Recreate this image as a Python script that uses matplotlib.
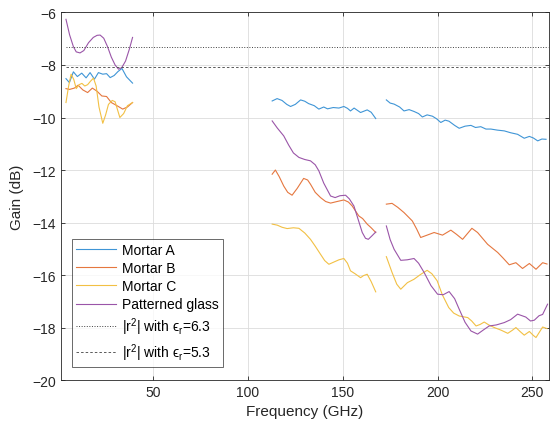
import numpy as np
import matplotlib.pyplot as plt

plt.rcParams["font.family"] = ["Liberation Sans", "DejaVu Sans"]
plt.rcParams["mathtext.fontset"] = "custom"
plt.rcParams["mathtext.rm"] = "Liberation Sans"
plt.rcParams["mathtext.it"] = "Liberation Sans:italic"

gap = np.nan

# Measured gain per material, three bands separated by NaN
mortar_a_f = [4.1, 5.9, 8.0, 10.1, 12.4, 14.7, 16.8, 19.1, 21.2, 23.5, 25.5, 27.4, 29.5, 31.5, 33.6, 36.0, 39.2, gap,
              112.8, 115.4, 118.0, 120.5, 122.5, 125.0, 127.8, 130.0, 132.0, 135.0, 137.4, 140.0, 142.0, 145.0, 148.0,
              150.6, 152.5, 154.1, 156.0, 159.4, 162.9, 165.0, 167.4, gap,
              173.0, 175.0, 177.1, 180.0, 182.3, 185.0, 187.6, 190.0, 192.0, 194.5, 197.3, 199.5, 201.7, 204.0, 206.0,
              209.0, 211.4, 214.5, 217.6, 220.0, 222.8, 225.5, 228.1, 231.5, 235.2, 238.5, 242.2, 245.7, 248.4, 250.5,
              252.8, 255.0, 257.2]
mortar_a_g = [-8.52, -8.67, -8.26, -8.44, -8.31, -8.49, -8.29, -8.54, -8.29, -8.35, -8.33, -8.48, -8.40, -8.25, -8.13,
              -8.45, -8.69, gap,
              -9.37, -9.28, -9.35, -9.50, -9.58, -9.50, -9.33, -9.38, -9.47, -9.55, -9.68, -9.60, -9.67, -9.62, -9.64,
              -9.58, -9.65, -9.75, -9.64, -9.81, -9.71, -9.80, -10.04, gap,
              -9.33, -9.45, -9.49, -9.60, -9.75, -9.70, -9.77, -9.85, -9.98, -9.90, -9.95, -10.05, -10.19, -10.10,
              -10.14, -10.30, -10.41, -10.33, -10.30, -10.38, -10.35, -10.44, -10.44, -10.48, -10.51, -10.58, -10.64,
              -10.79, -10.72, -10.78, -10.89, -10.82, -10.83]

mortar_b_f = [4.1, 6.0, 8.5, 10.5, 13.0, 15.5, 18.0, 20.5, 23.0, 25.5, 28.0, 31.0, 34.0, 36.5, 39.2, gap,
              112.8, 114.5, 116.5, 118.9, 121.0, 123.3, 126.0, 129.4, 131.5, 133.0, 135.5, 138.3, 141.0, 143.6, 147.0,
              150.6, 153.0, 155.0, 158.5, 160.5, 162.9, 165.0, 167.4, gap,
              173.0, 176.0, 179.0, 182.3, 186.7, 189.0, 191.1, 194.5, 198.2, 202.6, 207.0, 210.0, 213.2, 218.1, 221.1,
              226.4, 231.7, 234.5, 237.8, 241.3, 244.8, 248.4, 251.9, 255.4, 257.7]
mortar_b_g = [-8.90, -8.93, -8.88, -8.77, -8.95, -9.05, -8.88, -9.00, -9.18, -9.20, -9.43, -9.55, -9.68, -9.60,
              -9.43, gap,
              -12.16, -12.00, -12.25, -12.61, -12.85, -12.96, -12.70, -12.32, -12.38, -12.54, -12.85, -13.05, -13.20,
              -13.26, -13.20, -13.14, -13.22, -13.37, -13.75, -13.85, -14.06, -14.20, -14.38, gap,
              -13.30, -13.27, -13.42, -13.62, -13.94, -14.25, -14.57, -14.48, -14.38, -14.48, -14.29, -14.45, -14.64,
              -14.22, -14.38, -14.83, -15.14, -15.35, -15.61, -15.53, -15.75, -15.56, -15.78, -15.53, -15.58]

mortar_c_f = [4.1, 5.5, 6.8, 8.2, 9.5, 11.0, 12.5, 14.0, 15.5, 17.0, 18.6, 20.0, 21.5, 23.5, 25.0, 26.5, 28.5, 30.0,
              32.5, 34.5, 36.5, 39.2, gap,
              112.8, 115.5, 118.0, 120.7, 124.0, 126.9, 130.0, 133.0, 135.5, 138.3, 140.5, 142.7, 145.5, 148.0, 150.6,
              152.5, 154.1, 156.5, 159.4, 161.0, 162.9, 165.0, 167.4, gap,
              173.0, 176.0, 178.5, 180.6, 184.1, 187.6, 191.0, 194.5, 197.0, 199.8, 202.5, 205.9, 208.5, 211.4, 215.9,
              218.0, 220.3, 222.5, 224.6, 227.0, 229.9, 233.5, 237.0, 239.5, 241.3, 243.5, 245.7, 248.4, 250.5, 251.9,
              255.4, 257.7]
mortar_c_g = [-9.43, -8.80, -8.35, -8.55, -8.90, -8.75, -8.70, -8.80, -8.75, -8.62, -8.50, -8.80, -9.60, -10.22,
              -9.90, -9.50, -9.35, -9.40, -10.00, -9.85, -9.55, -9.43, gap,
              -14.06, -14.10, -14.18, -14.23, -14.20, -14.22, -14.40, -14.64, -14.90, -15.21, -15.45, -15.59, -15.50,
              -15.42, -15.37, -15.55, -15.84, -15.95, -16.10, -16.02, -15.97, -16.25, -16.64, gap,
              -15.30, -15.90, -16.35, -16.54, -16.29, -16.16, -15.98, -15.82, -15.95, -16.22, -16.75, -17.24, -17.45,
              -17.56, -17.62, -17.75, -17.94, -17.88, -17.79, -17.90, -18.00, -18.10, -18.22, -18.10, -18.00, -18.15,
              -18.29, -18.15, -18.30, -18.38, -17.98, -18.04]

glass_f = [4.1, 6.0, 8.0, 9.5, 11.5, 13.5, 16.0, 18.5, 20.5, 22.1, 24.0, 26.0, 28.0, 30.0, 31.8, 33.5, 35.5, 37.5,
           39.2, gap,
           112.8, 115.5, 118.9, 121.5, 124.0, 126.9, 130.0, 133.0, 135.5, 137.4, 140.0, 143.6, 146.0, 148.5, 151.5,
           153.5, 155.9, 158.0, 160.3, 162.0, 163.5, 165.5, 167.4, gap,
           173.0, 175.0, 177.1, 180.6, 184.0, 187.6, 190.0, 192.9, 196.5, 200.0, 203.0, 206.1, 209.0, 211.4, 214.5,
           217.6, 221.1, 224.0, 227.2, 231.0, 235.2, 238.5, 242.2, 246.5, 249.0, 251.0, 253.5, 255.4, 258.0]
glass_g = [-6.26, -6.85, -7.30, -7.50, -7.54, -7.45, -7.15, -6.95, -6.87, -6.86, -6.98, -7.30, -7.70, -8.00, -8.16,
           -8.10, -7.85, -7.40, -6.95, gap,
           -10.13, -10.40, -10.70, -11.05, -11.35, -11.52, -11.60, -11.65, -11.80, -12.03, -12.50, -12.99, -13.05,
           -12.98, -12.96, -13.10, -13.37, -13.85, -14.38, -14.60, -14.64, -14.50, -14.36, gap,
           -14.13, -14.65, -15.02, -15.44, -15.42, -15.37, -15.55, -15.90, -16.40, -16.73, -16.75, -16.63, -16.90,
           -17.30, -17.80, -18.13, -18.25, -18.10, -17.94, -17.90, -17.81, -17.70, -17.49, -17.60, -17.75, -17.72,
           -17.55, -17.50, -17.11]

# Theoretical reflection levels
ref_f = [4.1, 258.0]
ref_63 = -7.31
ref_53 = -8.07

series_names = ["Mortar A", "Mortar B", "Mortar C", "Patterned glass"]
series_colors = ["#3f95d6", "#e5773f", "#f2c044", "#9a55a8"]

fig = plt.figure(figsize=(5.5, 4.35), dpi=100)
ax = fig.add_axes([0.111, 0.124, 0.887, 0.845])

for f, g, name, c in zip([mortar_a_f, mortar_b_f, mortar_c_f, glass_f],
                         [mortar_a_g, mortar_b_g, mortar_c_g, glass_g],
                         series_names, series_colors):
    ax.plot(f, g, color=c, lw=0.8, label=name)

ax.plot(ref_f, [ref_63, ref_63], ":", color="0.25", lw=0.7, label="|r$^2$| with \u03f5$_\\mathregular{r}$=6.3")
ax.plot(ref_f, [ref_53, ref_53], "--", color="0.25", lw=0.6, dashes=(3, 2.5),
        label="|r$^2$| with \u03f5$_\\mathregular{r}$=5.3")

ax.set_xlim(1.5, 258.7)
ax.set_ylim(-20, -6)
ax.set_xticks([50, 100, 150, 200, 250])
ax.set_yticks(np.arange(-20, -5, 2))
ax.grid(True, color="#dcdcdc", lw=0.6)
ax.set_axisbelow(True)
ax.tick_params(direction="in", top=True, right=True, labelsize=10, colors="#262626", length=3, width=0.6)
for s in ax.spines.values():
    s.set_color("#262626")
    s.set_linewidth(0.6)

ax.set_xlabel("Frequency (GHz)", fontsize=11, color="#262626")
ax.set_ylabel("Gain (dB)", fontsize=11, color="#262626", labelpad=6)

leg = ax.legend(loc="lower left", bbox_to_anchor=(0.022, 0.035), fontsize=10, fancybox=False,
                edgecolor="#262626", handlelength=2.9, borderaxespad=0, labelspacing=0.3,
                handletextpad=0.4, borderpad=0.3)
leg.get_frame().set_linewidth(0.6)

fig.savefig("out.png", dpi=100)
